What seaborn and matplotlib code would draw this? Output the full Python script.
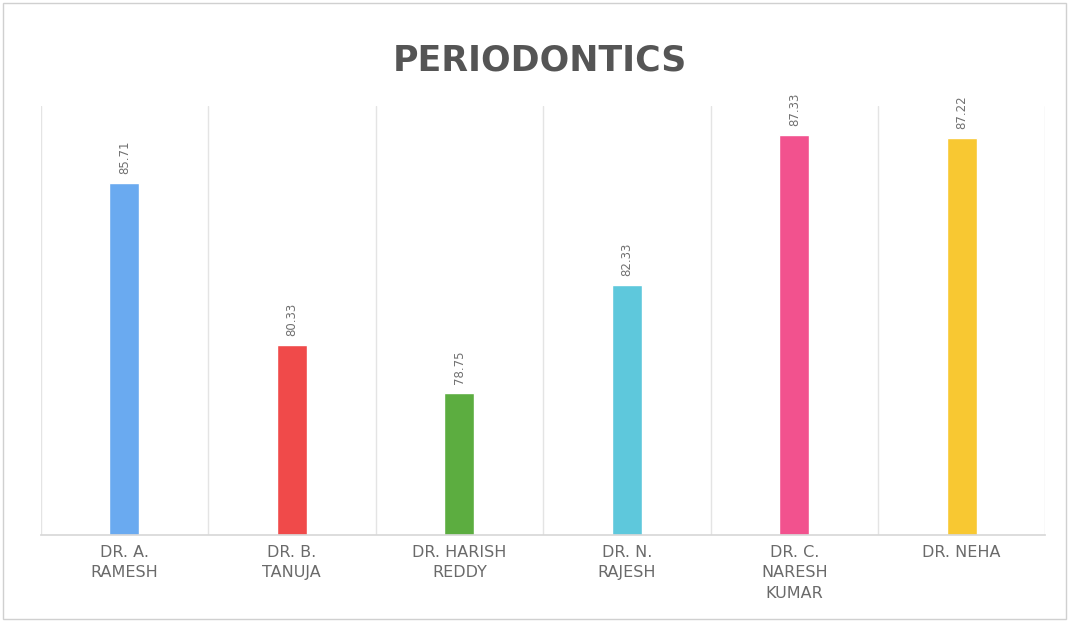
import matplotlib
matplotlib.use("Agg")
import matplotlib.pyplot as plt
import seaborn as sns
import pandas as pd

doctors = ["DR. A.\nRAMESH", "DR. B.\nTANUJA", "DR. HARISH\nREDDY", "DR. N.\nRAJESH",
           "DR. C.\nNARESH\nKUMAR", "DR. NEHA"]
scores = [85.71, 80.33, 78.75, 82.33, 87.33, 87.22]
colors = ["#6aaaf0", "#f04a4a", "#5cad40", "#5ec8dc", "#f2528e", "#f8c832"]

df = pd.DataFrame({"doctor": doctors, "score": scores})

sns.set_theme(style="white")
plt.rcParams["font.family"] = ["DejaVu Sans"]

fig = plt.figure(figsize=(10.69, 6.32), dpi=100)
ax = fig.add_axes([0.038, 0.153, 0.94, 0.68])
sns.barplot(data=df, x="doctor", y="score", hue="doctor", palette=colors,
            legend=False, width=0.18, ax=ax, saturation=1)
ax.set_ylim(74, 88.3)
ax.set_xlim(-0.5, 5.5)
ax.set_yticks([])
ax.set_xlabel("")
ax.set_ylabel("")
for x in [-0.5, 0.5, 1.5, 2.5, 3.5, 4.5, 5.5]:
    ax.axvline(x, color="#e4e4e4", lw=1, zorder=0)
for s in ["top", "right", "left"]:
    ax.spines[s].set_visible(False)
ax.spines["bottom"].set_color("#d8d8d8")
ax.tick_params(axis="x", length=0, pad=7, labelsize=11.5, labelcolor="#6a6a6a")
for lbl in ax.get_xticklabels():
    lbl.set_linespacing(1.45)
    lbl.set_va("top")
for i, v in enumerate(scores):
    ax.text(i, v + 0.3, f"{v:.2f}", rotation=90, ha="center", va="bottom",
            fontsize=8.5, color="#707070")
fig.text(0.505, 0.905, "PERIODONTICS", ha="center", va="center", fontsize=25,
         fontweight="bold", color="#555555")
fig.patches.append(plt.Rectangle((0.003, 0.02), 0.994, 0.975, transform=fig.transFigure,
                                 fill=False, edgecolor="#d0d0d0", lw=1))
fig.savefig("out.png", dpi=100)
